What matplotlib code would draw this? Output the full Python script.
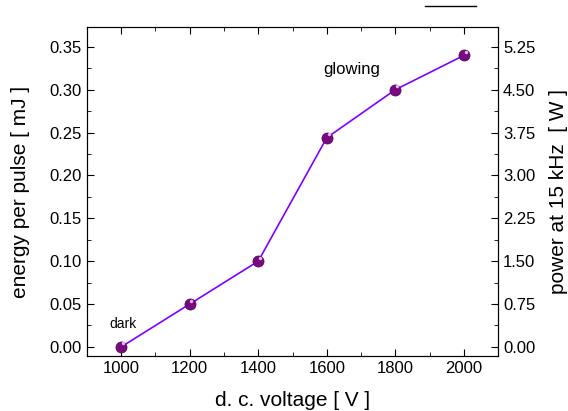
import numpy as np
import matplotlib.pyplot as plt
from matplotlib.lines import Line2D
from matplotlib.ticker import MultipleLocator

plt.rcParams['font.family'] = ['Liberation Sans', 'DejaVu Sans']

voltage = [1000, 1200, 1400, 1600, 1800, 2000]
energy = [0.0, 0.05, 0.10, 0.244, 0.30, 0.34]
rep_rate_khz = 15

fig = plt.figure(figsize=(5.68, 4.11), dpi=100)
ax = fig.add_axes([0.153, 0.134, 0.724, 0.800])

ax.plot(voltage, energy, color='#8000ff', lw=1.2, zorder=2)
ax.plot(voltage, energy, 'o', ms=8, mfc='#760a7e', mec='#5a005e', mew=0.5, zorder=3)
# little highlight to look like a shaded ball
ax.plot(np.array(voltage) + 5, np.array(energy) + 0.004, 'o', ms=2.5,
        mfc='#e0b8e4', mec='none', zorder=4)

ax.set_xlim(900, 2100)
ax.set_ylim(-0.0105, 0.373)
ax.xaxis.set_major_locator(MultipleLocator(200))
ax.xaxis.set_minor_locator(MultipleLocator(100))
ax.yaxis.set_major_locator(MultipleLocator(0.05))
ax.yaxis.set_minor_locator(MultipleLocator(0.025))
ax.yaxis.set_major_formatter(plt.FormatStrFormatter('%.2f'))
ax.tick_params(which='both', direction='in', top=True, labelsize=12)
ax.tick_params(which='major', length=5)
ax.tick_params(which='minor', length=3)
ax.set_xlabel('d. c. voltage [ V ]', fontsize=15, labelpad=11)
ax.set_ylabel('energy per pulse [ mJ ]', fontsize=15, labelpad=14)

ax2 = ax.twinx()
ax2.set_ylim(ax.get_ylim()[0] * rep_rate_khz, ax.get_ylim()[1] * rep_rate_khz)
ax2.yaxis.set_major_locator(MultipleLocator(0.75))
ax2.yaxis.set_minor_locator(MultipleLocator(0.375))
ax2.yaxis.set_major_formatter(plt.FormatStrFormatter('%.2f'))
ax2.tick_params(which='both', direction='in', labelsize=12)
ax2.tick_params(which='major', length=5)
ax2.tick_params(which='minor', length=3)
ax2.set_ylabel('power at 15 kHz  [ W ]', fontsize=15, labelpad=10)

ax.text(1005, 0.022, 'dark', fontsize=10, ha='center')
ax.text(1672, 0.318, 'glowing', fontsize=12, ha='center')

fig.add_artist(Line2D([425 / 568, 476 / 568], [1 - 6 / 411, 1 - 6 / 411],
                      color='black', lw=1))

fig.savefig('out.png', dpi=100)
